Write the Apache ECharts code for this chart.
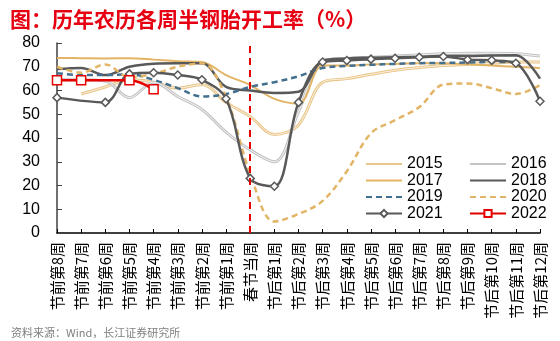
<!DOCTYPE html>
<html><head><meta charset="utf-8">
<script src="https://cdn.jsdelivr.net/npm/echarts@6/dist/echarts.min.js"></script>
<style>html,body{margin:0;padding:0;background:#fff}#c{width:560px;height:341px}</style>
</head><body><div id="c"></div>
<script>
var categories = ['节前第8周','节前第7周','节前第6周','节前第5周','节前第4周','节前第3周','节前第2周','节前第1周','春节当周','节后第1周','节后第2周','节后第3周','节后第4周','节后第5周','节后第6周','节后第7周','节后第8周','节后第9周','节后第10周','节后第11周','节后第12周'];
var yTicks = [0,10,20,30,40,50,60,70,80];
var s2015 = [null,58.5,61.5,64.5,63.5,61,62.5,55,49,41.5,45.5,63.5,65,66.8,68.5,69.7,70.5,71,71.5,72,72];
var s2016 = [64.5,64.5,64,57,63.5,57.5,52,42.5,35,30,51,72.5,73.5,74,74.5,75,75.5,75.7,75.7,75.5,74.5];
var s2017 = [73.7,73.6,73.5,73.6,73,72.3,72,66.5,62.3,56.5,54.5,70.5,70.5,71,71.2,71.5,71.5,71,70.5,70,69.5];
var s2018 = [69,69.5,66.5,70,71.3,71.5,71.5,61.5,60,59,59.5,72.5,73.5,73.8,74,74.2,74.5,74.5,74.7,74.8,65];
var s2019 = [67.3,66.5,66.5,66.8,64.5,61,57.5,58.5,61.5,63.5,66,69.5,70.3,70.8,71.2,71.5,71.6,71.8,72,72,null];
var s2020 = [70,67.5,71,65.5,67,70,71.5,57,25,4.8,8,13.5,26,42,47.5,53,62.5,63,61,58.5,62.3];
var s2021 = [57,null,55,67,67.5,66.5,64.5,56.5,23,19.7,55,72,72.6,73.2,73.6,74,74.3,73,72.7,71.5,55.5];
var s2022 = [64.3,64.3,null,64.3,60.5];
var springWeek = '春节当周';

var chart = echarts.init(document.getElementById('c'), null, {renderer:'canvas'});
var SM = 0.35;
function line(name, data, color, width, type, extra) {
  var s = {name:name, type:'line', data:data, smooth:SM, symbol:'none', connectNulls:true,
    lineStyle:{color:color, width:width, type:type||'solid'}, itemStyle:{color:color}, emphasis:{disabled:true}};
  if (extra) for (var k in extra) s[k] = extra[k];
  return s;
}
var series = [
  line('2015', s2015, '#E8C68A', 3),
  line('2015core', s2015, '#FBF1DF', 1),
  line('2016', s2016, '#C4C4C4', 3),
  line('2016core', s2016, '#F4F4F4', 1),
  line('2017', s2017, '#E3B466', 2),
  line('2018', s2018, '#595959', 2.5),
  line('2019', s2019, '#44708F', 2.5, [6,4]),
  line('2020', s2020, '#E2B566', 2.5, [6,4]),
  line('2021', s2021, '#595959', 2.5, 'solid', {symbol:'diamond', symbolSize:8, showAllSymbol:true,
    itemStyle:{color:'#fff', borderColor:'#595959', borderWidth:1.5}}),
  line('2022', s2022, '#E60000', 2.5, 'solid', {symbol:'rect', symbolSize:9, showAllSymbol:true,
    itemStyle:{color:'#fff', borderColor:'#E60000', borderWidth:1.5},
    markLine:{silent:true, symbol:'none', label:{show:false},
      lineStyle:{color:'#E60000', width:2, type:[7,5]}, data:[{xAxis:springWeek}]}})
];
var legendText = {fontSize:16, color:'#000', fontFamily:'Liberation Sans, Arial', lineHeight:16};
function plain(n){ return {name:n, itemStyle:{opacity:0}}; }
function marked(n){ return {name:n}; }
var option = {
  animation:false,
  backgroundColor:'#fff',
  title:[
    {text:'图：历年农历各周半钢胎开工率（%）', left:5, top:4,
     textStyle:{color:'#E60012', fontSize:21, fontWeight:'bold', fontFamily:'Noto Sans CJK SC'}},
    {text:'资料来源：Wind，长江证券研究所', left:6, top:322,
     textStyle:{color:'#7F7F7F', fontSize:11, fontWeight:'normal', fontFamily:'Noto Sans CJK SC'}}
  ],
  legend:[
    {data:[plain('2015'),plain('2017'),plain('2019'),marked('2021')], orient:'vertical', left:360, top:151, itemWidth:36, itemHeight:9, itemGap:0.5,
     textStyle:legendText, selectedMode:false},
    {data:[plain('2016'),plain('2018'),plain('2020'),marked('2022')], orient:'vertical', left:464, top:151, itemWidth:36, itemHeight:9, itemGap:0.5,
     textStyle:legendText, selectedMode:false}
  ],
  grid:{left:57, right:20, top:43, bottom:108, containLabel:false},
  xAxis:{type:'category', data:categories, boundaryGap:false,
    axisLine:{lineStyle:{color:'#000', width:1.5}},
    axisTick:{inside:true, length:4, lineStyle:{color:'#000'}},
    axisLabel:{rotate:90, fontSize:15, color:'#000', margin:9, interval:0, fontFamily:'Noto Sans CJK SC'},
    splitLine:{show:false}},
  yAxis:{type:'value', min:yTicks[0], max:yTicks[yTicks.length-1], interval:yTicks[1]-yTicks[0],
    axisLine:{show:true, lineStyle:{color:'#404040', width:1.5}},
    axisTick:{show:true, inside:true, length:5, lineStyle:{color:'#404040'}},
    axisLabel:{fontSize:16, color:'#000', margin:17, fontFamily:'Liberation Sans, Arial'},
    splitLine:{show:false}},
  series:series
};
chart.setOption(option);
</script></body></html>
